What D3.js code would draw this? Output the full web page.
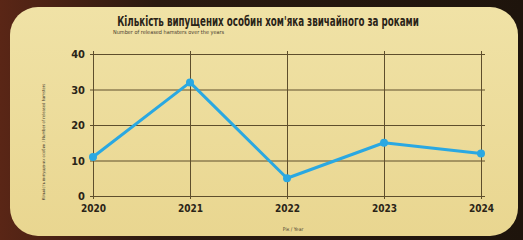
<!DOCTYPE html>
<html>
<head>
<meta charset="utf-8">
<script src="https://cdn.jsdelivr.net/npm/d3@7"></script>
<style>
  body { margin: 0; background: #2b1a10; }
  svg { display: block; }
</style>
</head>
<body>
<div id="chart"></div>
<script>
const years = ["2020", "2021", "2022", "2023", "2024"];
const released = [11, 32, 5, 15, 12];
const yTicks = [0, 10, 20, 30, 40];

const W = 523, H = 240;
const margin = { top: 54, right: 42, bottom: 44, left: 93 };
const width = W - margin.left - margin.right;
const height = H - margin.top - margin.bottom;

const svg = d3.select("#chart").append("svg")
  .attr("width", W).attr("height", H);

const defs = svg.append("defs");
const bg = defs.append("linearGradient").attr("id", "bg")
  .attr("x1", 0).attr("y1", 0).attr("x2", 1).attr("y2", 0);
bg.append("stop").attr("offset", "0%").attr("stop-color", "#5a2616");
bg.append("stop").attr("offset", "30%").attr("stop-color", "#2b1a10");
bg.append("stop").attr("offset", "100%").attr("stop-color", "#1e140c");
const card = defs.append("linearGradient").attr("id", "card")
  .attr("x1", 0).attr("y1", 0).attr("x2", 0).attr("y2", 1);
card.append("stop").attr("offset", "0%").attr("stop-color", "#f0e2a6");
card.append("stop").attr("offset", "100%").attr("stop-color", "#e9d690");

svg.append("rect").attr("width", W).attr("height", H).attr("fill", "url(#bg)");
svg.append("rect")
  .attr("x", 10).attr("y", 7).attr("width", 508).attr("height", 229)
  .attr("rx", 28).attr("fill", "url(#card)");

const narrow = "'Liberation Sans Narrow', 'DejaVu Sans Condensed', sans-serif";

// titles (squeezed horizontally, the original uses a condensed face)
svg.append("text")
  .attr("transform", "translate(268,26) scale(0.72,1)")
  .attr("text-anchor", "middle")
  .style("font-family", narrow)
  .style("font-weight", "bold").style("font-size", "13.5px")
  .attr("fill", "#2a2418")
  .text("Кількість випущених особин хом'яка звичайного за роками");

svg.append("text")
  .attr("x", 113).attr("y", 34)
  .style("font-family", narrow)
  .style("font-size", "5.5px").attr("fill", "#4a4030")
  .text("Number of released hamsters over the years");

const g = svg.append("g").attr("transform", `translate(${margin.left},${margin.top})`);

const x = d3.scalePoint().domain(years).range([0, width]);
const y = d3.scaleLinear().domain([0, 40]).range([height, 0]);

const gridColor = "#5e4e2c";

// horizontal grid
g.append("g")
  .call(d3.axisLeft(y).tickValues(yTicks).tickSize(-width - 4).tickPadding(8))
  .call(a => a.select(".domain").remove())
  .call(a => a.selectAll("line").attr("stroke", gridColor).attr("stroke-width", 1).attr("x1", -3))
  .call(a => a.selectAll("text")
    .style("font-family", narrow)
    .style("font-weight", "bold").style("font-size", "11px").attr("fill", "#2a2418"));

// vertical grid + x labels
g.append("g")
  .attr("transform", `translate(0,${height})`)
  .call(d3.axisBottom(x).tickSize(-height - 3).tickPadding(9))
  .call(a => a.select(".domain").remove())
  .call(a => a.selectAll("line").attr("stroke", gridColor).attr("stroke-width", 1).attr("y1", 3))
  .call(a => a.selectAll("text")
    .style("font-family", narrow)
    .style("font-weight", "bold").style("font-size", "10px").attr("fill", "#2a2418"));

// axis titles
svg.append("text")
  .attr("transform", "translate(45,142) rotate(-90)")
  .attr("text-anchor", "middle")
  .style("font-family", narrow)
  .style("font-size", "4.2px").attr("fill", "#4a4030")
  .text("Кількість випущених особин / Number of released hamsters");

svg.append("text")
  .attr("x", 293).attr("y", 231)
  .attr("text-anchor", "middle")
  .style("font-family", narrow)
  .style("font-size", "5px").attr("fill", "#4a4030")
  .text("Рік / Year");

// line
const line = d3.line().x((d, i) => x(years[i])).y(d => y(d));
g.append("path")
  .datum(released)
  .attr("d", line)
  .attr("fill", "none")
  .attr("stroke", "#2aa8e2")
  .attr("stroke-width", 3)
  .attr("stroke-linejoin", "round");

g.selectAll("circle.pt")
  .data(released)
  .join("circle")
  .attr("class", "pt")
  .attr("cx", (d, i) => x(years[i]))
  .attr("cy", d => y(d))
  .attr("r", 4)
  .attr("fill", "#2aa8e2");
</script>
</body>
</html>
